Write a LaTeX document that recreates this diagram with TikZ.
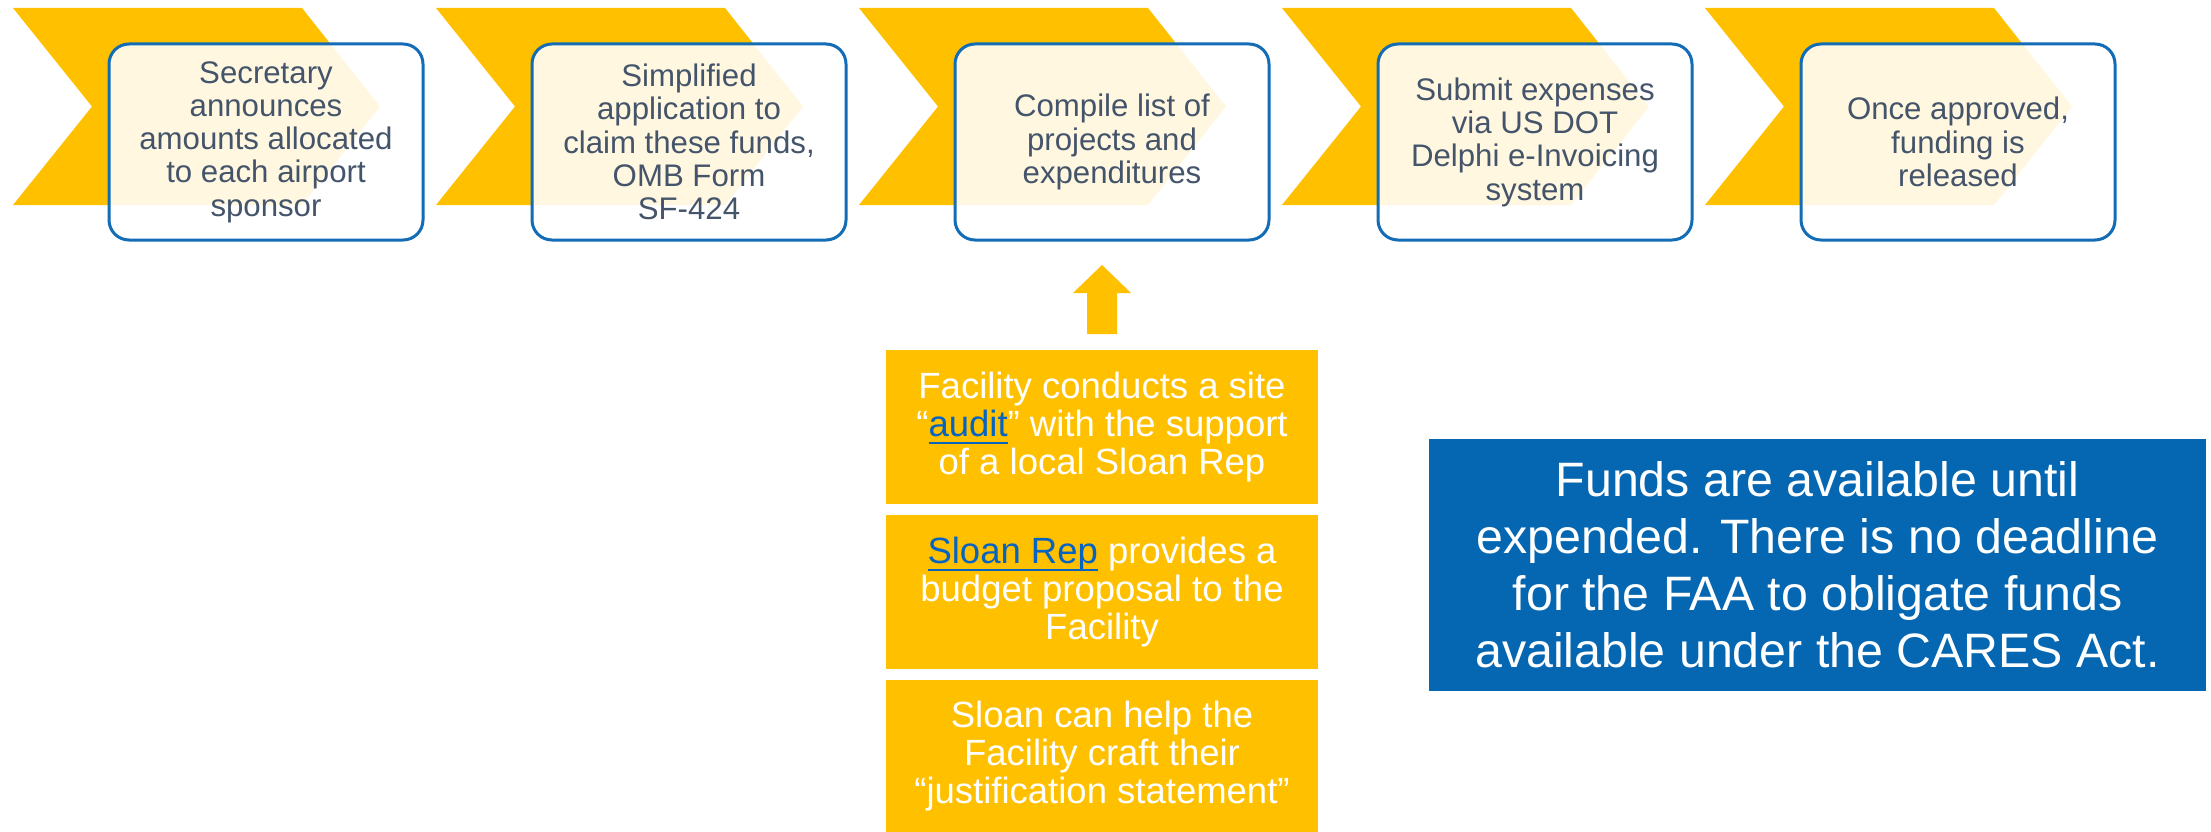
\documentclass[tikz,border=0pt]{standalone}
\usepackage{fontspec}
\setmainfont{Liberation Sans}
\definecolor{chev}{RGB}{255,192,0}
\definecolor{boxblue}{RGB}{18,108,182}
\definecolor{slate}{RGB}{68,84,106}
\definecolor{panelblue}{RGB}{5,103,178}
\definecolor{linkblue}{RGB}{5,99,193}
\newcommand{\lnk}[1]{{\color{linkblue}\setbox0=\hbox{#1}\rlap{\rule[-8pt]{\wd0}{2.6pt}}\box0}}
\begin{document}
\begin{tikzpicture}[x=1pt,y=-1pt,
  chevron/.style={fill=chev},
  stepbox/.style={draw=boxblue, line width=3pt, rounded corners=20pt, fill=white, fill opacity=0.88, text opacity=1,
    minimum width=314pt, minimum height=196pt, align=center, text=slate, font=\fontsize{31.2}{33.3}\selectfont, inner sep=0pt},
  ybox/.style={fill=chev, minimum width=432pt, align=center, text=white, font=\fontsize{36.5}{38.3}\selectfont, inner sep=0pt},
  panel/.style={fill=panelblue, minimum width=777pt, minimum height=252pt, align=center, text=white,
    font=\fontsize{48.3}{57}\selectfont, inner sep=0pt}]
\useasboundingbox (0,0) rectangle (2211,832);
\foreach \k in {0,...,4}{
  \pgfmathsetmacro\xo{13+423*\k}
  \fill[chevron] (\xo,8) -- ++(289,0) -- ++(78,98.5) -- ++(-78,98.5) -- ++(-289,0) -- ++(79,-98.5) -- cycle;
}
\node[stepbox] (s1) at (266,142) {Secretary\\announces\\amounts allocated\\to each airport\\sponsor};
\node[stepbox] (s2) at (689,142) {Simplified\\application to\\claim these funds,\\OMB Form\\SF-424};
\node[stepbox] (s3) at (1112,142) {Compile list of\\projects and\\expenditures};
\node[stepbox] (s4) at (1535,142) {Submit expenses\\via US DOT\\Delphi e-Invoicing\\system};
\node[stepbox] (s5) at (1958,142) {Once approved,\\funding is\\released};
\fill[chev] (1087,334) -- (1087,293) -- (1073,293) -- (1102,265) -- (1131,293) -- (1117,293) -- (1117,334) -- cycle;
\node[ybox, minimum height=154pt] (y1) at (1102,427) {Facility conducts a site\\“\lnk{audit}” with the support\\of a local Sloan Rep};
\node[ybox, minimum height=154pt] (y2) at (1102,592) {\lnk{Sloan Rep} provides a\\budget proposal to the\\Facility};
\node[ybox, minimum height=152pt] (y3) at (1102,756) {Sloan can help the\\Facility craft their\\“justification statement”};
\node[panel] (p) at (1817.5,565) {Funds are available until\\expended. There is no deadline\\for the FAA to obligate funds\\available under the CARES Act.};
\end{tikzpicture}
\end{document}
